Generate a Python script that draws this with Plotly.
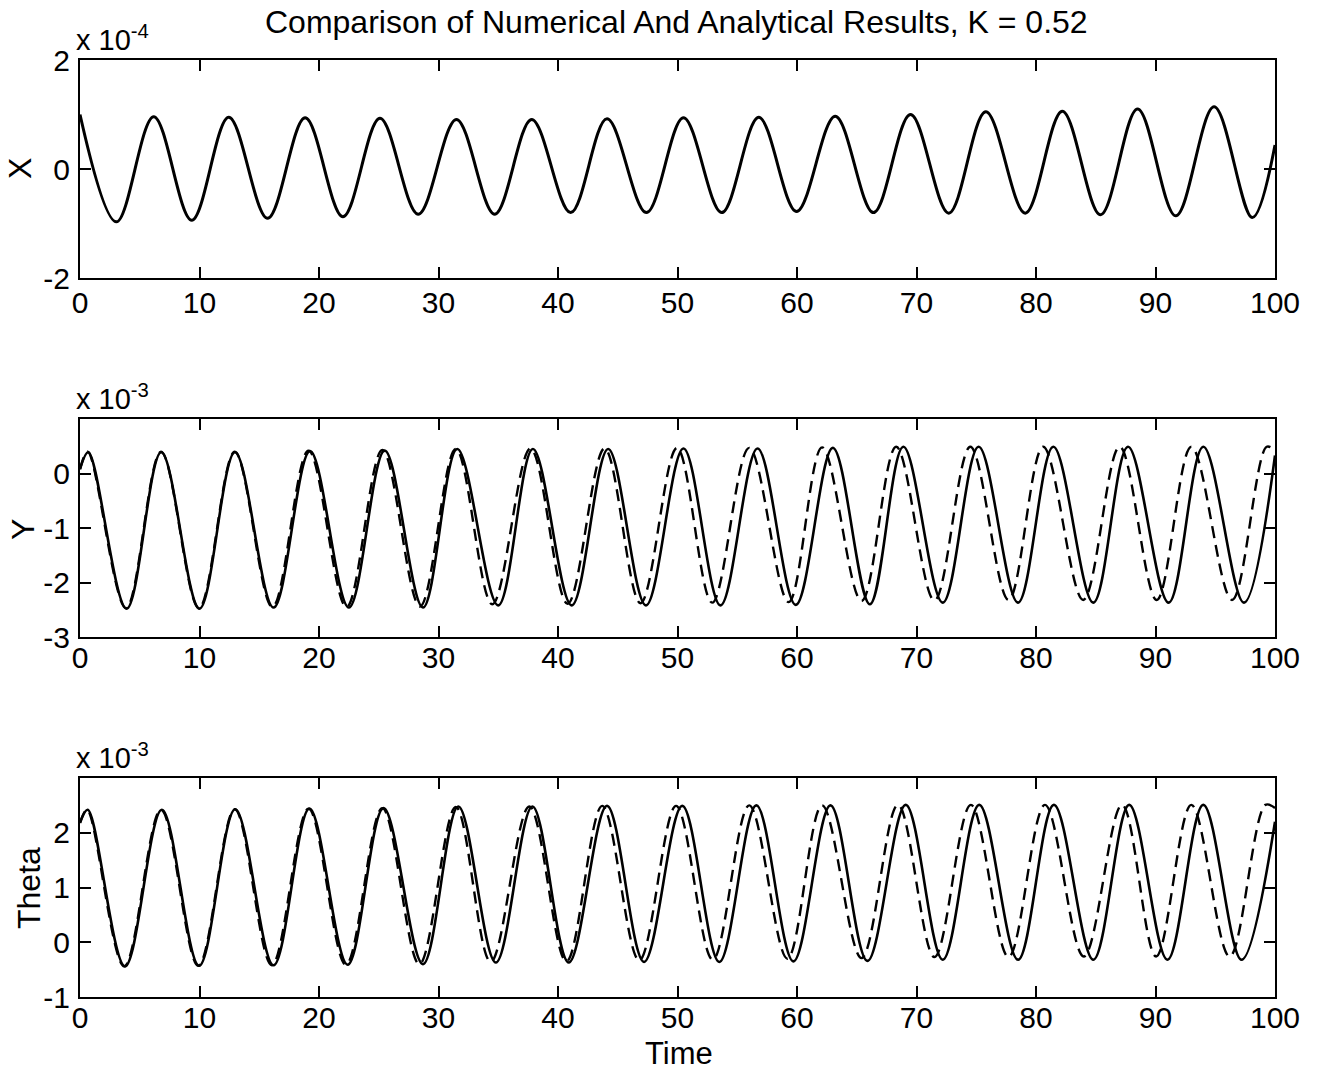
import plotly.graph_objects as go

# ---------------- data ----------------
x_t = [0, 3.05, 6.17, 9.35, 12.45, 15.7, 18.84, 22.0, 25.1, 28.3, 31.5, 34.7, 37.8, 41.06,
       44.1, 47.4, 50.5, 53.7, 56.8, 59.97, 63.2, 66.4, 69.5, 72.7, 75.8, 79.1, 82.2, 85.4,
       88.5, 91.7, 94.9, 98.1, 100]
x_v = [1.0, -0.97, 0.96, -0.94, 0.95, -0.905, 0.94, -0.875, 0.93, -0.83, 0.91, -0.83, 0.91,
       -0.80, 0.92, -0.80, 0.94, -0.80, 0.95, -0.78, 0.97, -0.80, 1.0, -0.81, 1.05, -0.81,
       1.06, -0.84, 1.10, -0.86, 1.14, -0.89, 0.44]

y_num_t = [0, 0.7, 3.9, 6.8, 10.0, 12.97, 16.2, 19.25, 22.5, 25.5, 28.7, 31.57, 35.0, 37.9,
           41.15, 44.2, 47.36, 50.5, 53.6, 56.7, 59.9, 63.0, 66.1, 68.9, 72.2, 75.2, 78.5,
           81.45, 84.8, 87.7, 91.1, 94.0, 97.4, 100]
y_num_v = [0.08, 0.39, -2.48, 0.39, -2.48, 0.39, -2.46, 0.41, -2.46, 0.42, -2.46, 0.45, -2.42,
           0.45, -2.42, 0.45, -2.42, 0.46, -2.42, 0.46, -2.41, 0.47, -2.40, 0.49, -2.37, 0.49,
           -2.37, 0.49, -2.37, 0.49, -2.37, 0.49, -2.37, 0.33]

y_ana_t = [0, 0.65, 3.85, 6.78, 9.95, 12.95, 16.1, 19.12, 22.3, 25.3, 28.45, 31.45, 34.5,
           37.7, 40.8, 43.9, 46.9, 49.96, 52.9, 56.0, 59.3, 62.1, 65.4, 68.3, 71.5, 74.5,
           77.7, 80.6, 83.95, 87.0, 90.1, 93.0, 96.4, 99.3, 100]
y_ana_v = [0.08, 0.40, -2.47, 0.40, -2.47, 0.40, -2.45, 0.42, -2.45, 0.43, -2.44, 0.45, -2.40,
           0.46, -2.39, 0.46, -2.38, 0.47, -2.37, 0.47, -2.36, 0.48, -2.34, 0.49, -2.33, 0.49,
           -2.32, 0.49, -2.32, 0.49, -2.32, 0.49, -2.32, 0.49, 0.42]

th_num_t = [0, 0.65, 3.77, 6.85, 9.97, 12.99, 16.2, 19.2, 22.4, 25.4, 28.7, 31.66, 34.8, 37.86,
            40.9, 44.1, 47.2, 50.4, 53.5, 56.6, 59.7, 62.8, 65.9, 69.1, 72.2, 75.25, 78.5,
            81.5, 84.8, 87.8, 91.0, 94.0, 97.2, 100]
th_num_v = [2.18, 2.42, -0.44, 2.42, -0.43, 2.43, -0.42, 2.44, -0.41, 2.45, -0.40, 2.48, -0.37,
            2.48, -0.37, 2.49, -0.36, 2.49, -0.36, 2.50, -0.35, 2.50, -0.34, 2.51, -0.32, 2.51,
            -0.32, 2.51, -0.32, 2.51, -0.32, 2.51, -0.32, 2.2]

th_ana_t = [0, 0.6, 3.7, 6.78, 9.9, 12.95, 16.05, 19.12, 22.25, 25.3, 28.4, 31.45, 34.37, 37.6,
            40.7, 43.7, 46.8, 49.88, 52.95, 56.0, 59.2, 62.1, 65.4, 68.45, 71.5, 74.55, 77.7,
            80.75, 84.0, 87.2, 90.05, 93.0, 96.2, 99.2, 100]
th_ana_v = [2.18, 2.42, -0.44, 2.42, -0.43, 2.43, -0.42, 2.44, -0.41, 2.45, -0.40, 2.47, -0.36,
            2.48, -0.35, 2.49, -0.33, 2.49, -0.32, 2.50, -0.30, 2.50, -0.29, 2.51, -0.27, 2.51,
            -0.27, 2.51, -0.26, 2.51, -0.26, 2.51, -0.26, 2.51, 2.45]

x_ticks = [0, 10, 20, 30, 40, 50, 60, 70, 80, 90, 100]
x_tick_labels = [str(v) for v in x_ticks]
top_yticks = [-2, 0, 2]
mid_yticks = [-3, -2, -1, 0]
bot_yticks = [-1, 0, 1, 2]

title_text = "Comparison of Numerical And Analytical Results, K = 0.52"

# ---------------- figure ----------------
FONT = "Liberation Sans, Arial, Helvetica, sans-serif"
fig = go.Figure()

solid = dict(color="black", width=2.6)
dashed = dict(color="black", width=2.4, dash="12px,7px")

fig.add_trace(go.Scatter(x=x_t, y=x_v, mode="lines", line=dict(color="black", width=3.0, shape="spline"),
                         xaxis="x", yaxis="y", showlegend=False))
fig.add_trace(go.Scatter(x=y_num_t, y=y_num_v, mode="lines", line=dict(**solid, shape="spline"),
                         xaxis="x2", yaxis="y2", showlegend=False))
fig.add_trace(go.Scatter(x=y_ana_t, y=y_ana_v, mode="lines", line=dict(**dashed, shape="spline"),
                         xaxis="x2", yaxis="y2", showlegend=False))
fig.add_trace(go.Scatter(x=th_num_t, y=th_num_v, mode="lines", line=dict(**solid, shape="spline"),
                         xaxis="x3", yaxis="y3", showlegend=False))
fig.add_trace(go.Scatter(x=th_ana_t, y=th_ana_v, mode="lines", line=dict(**dashed, shape="spline"),
                         xaxis="x3", yaxis="y3", showlegend=False))

# page has an 8px body margin: the figure starts at (8, 8) in the window
OFF = 8
W, H = 1321 - OFF, 1069 - OFF
ML, MR, MT, MB = 80 - OFF, 46, 60 - OFF, 1069 - 997
PW, PH = W - ML - MR, H - MT - MB


def py2paper(py):
    # py: pixel y in the window
    return (H - MB - (py - OFF)) / PH


def px2paper(px):
    return (px - OFF - ML) / PW


domains = {
    "": [py2paper(278), py2paper(60)],
    "2": [py2paper(637), py2paper(419)],
    "3": [py2paper(997), py2paper(778)],
}
yranges = {"": [-2, 2], "2": [-3, 1], "3": [-1, 3]}
yticks = {"": top_yticks, "2": mid_yticks, "3": bot_yticks}
xstandoff = {"": -3, "2": -7, "3": -7}

common = dict(showline=True, linecolor="black", linewidth=2, mirror="ticks", ticks="inside",
              ticklen=11, tickwidth=2, tickcolor="black", showgrid=False, zeroline=False,
              tickfont=dict(family=FONT, size=30, color="black"))

for k in ["", "2", "3"]:
    fig.layout["xaxis" + k] = dict(common, domain=[0, 1], range=[0, 100], tickvals=x_ticks,
                                   ticktext=x_tick_labels, anchor="y" + k,
                                   ticklabelstandoff=xstandoff[k])
    fig.layout["yaxis" + k] = dict(common, domain=domains[k], range=yranges[k], tickvals=yticks[k],
                                   ticktext=[str(v) for v in yticks[k]], anchor="x" + k,
                                   ticklabelstandoff=2)

ann = []
ann.append(dict(text=title_text, x=px2paper(676), y=py2paper(22), xref="paper", yref="paper",
                showarrow=False, font=dict(family=FONT, size=32, color="black"),
                xanchor="center", yanchor="middle"))
exps = {"": "-4", "2": "-3", "3": "-3"}
for k in ["", "2", "3"]:
    ann.append(dict(text="x 10<sup>" + exps[k] + "</sup>", x=0, y=domains[k][1], xref="paper",
                    yref="paper", showarrow=False, font=dict(family=FONT, size=29, color="black"),
                    xanchor="left", yanchor="bottom", yshift=2, xshift=-6))
labels = [("X", 20, 169), ("Y", 23, 530), ("Theta", 29, 888)]
for txt, lx, ly in labels:
    ann.append(dict(text=txt, x=px2paper(lx), y=py2paper(ly), xref="paper", yref="paper",
                    showarrow=False, textangle=-90, font=dict(family=FONT, size=32, color="black"),
                    xanchor="center", yanchor="middle"))
ann.append(dict(text="Time", x=px2paper(679), y=py2paper(1053), xref="paper", yref="paper",
                showarrow=False, font=dict(family=FONT, size=31, color="black"),
                xanchor="center", yanchor="middle"))

fig.update_layout(width=W, height=H, margin=dict(l=ML, r=MR, t=MT, b=MB, autoexpand=False),
                  paper_bgcolor="white", plot_bgcolor="white", annotations=ann,
                  font=dict(family=FONT, color="black"))

fig.write_html("out.html")
